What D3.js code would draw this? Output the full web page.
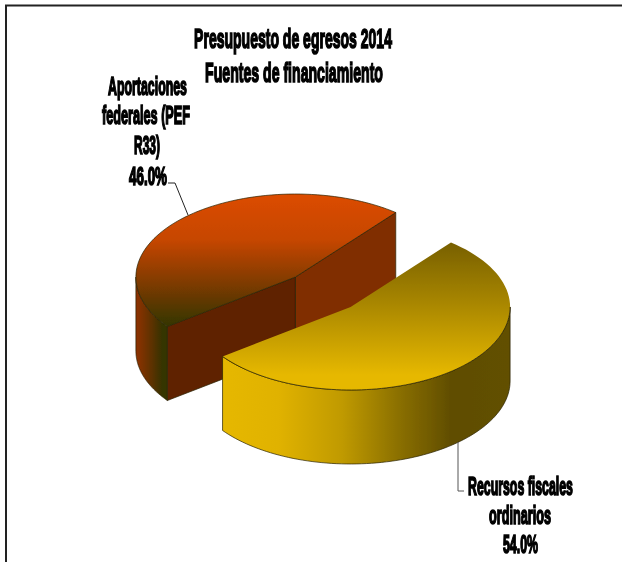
<!DOCTYPE html>
<html><head><meta charset="utf-8">
<script src="https://cdn.jsdelivr.net/npm/d3@7"></script>
<style>html,body{margin:0;padding:0;background:#fff;overflow:hidden}svg{display:block}
text{font-family:"Liberation Sans",Arial,sans-serif;font-weight:700;fill:#000;stroke:#000;text-anchor:middle}</style>
</head><body><svg id="c" width="622" height="562"></svg>
<script>
const categories = ["Recursos fiscales ordinarios", "Aportaciones federales (PEF R33)"];
const values = [54.0, 46.0];
const titleLines = ["Presupuesto de egresos 2014", "Fuentes de financiamiento"];
const labelLines = [["Recursos fiscales", "ordinarios", "54.0%"], ["Aportaciones", "federales (PEF", "R33)", "46.0%"]];

const W = 622, H = 562, cx = 323, cy = 292, rx = 159.5, ry = 83, depth = 74, explode = 0.25;
const svg = d3.select("#c");
const defs = svg.append("defs");
defs.append("filter").attr("id","soft").attr("x","-5%").attr("y","-5%").attr("width","110%").attr("height","110%")
  .append("feGaussianBlur").attr("stdDeviation",0.5);
function grad(id, x1, y1, x2, y2, stops){
  const g = defs.append("linearGradient").attr("id",id).attr("gradientUnits","userSpaceOnUse")
    .attr("x1",x1).attr("y1",y1).attr("x2",x2).attr("y2",y2);
  stops.forEach(s=>g.append("stop").attr("offset",s[0]).attr("stop-color",s[1]));
}
grad("topO",0,194,0,325,[[0,"#dc4c00"],[.35,"#c64600"],[.7,"#7a3a00"],[1,"#363600"]]);
grad("topY",0,243,0,375,[[0,"#786000"],[.45,"#a88600"],[1,"#e6b800"]]);
grad("sideO",137,0,167,0,[[0,"#8c3000"],[.5,"#5c3000"],[.85,"#343400"],[1,"#343400"]]);
grad("sideY",221,0,509,0,[[0,"#e6b800"],[.2,"#e0b200"],[.42,"#c09a00"],[.62,"#8a6f00"],[.8,"#604d00"],[1,"#625000"]]);

const pie = d3.pie().sort(null).startAngle(39*Math.PI/180).endAngle((39+360)*Math.PI/180);
const arcs = pie(values);
const xS = d3.scaleLinear().domain([-1,1]).range([-rx,rx]);
const yS = d3.scaleLinear().domain([-1,1]).range([ry,-ry]);
const line = d3.line();
function center(a){ const m=(a.startAngle+a.endAngle)/2;
  return [cx+xS(Math.sin(m)*explode), cy+yS(Math.cos(m)*explode)]; }
function pt(c,t,dz=0){ return [c[0]+xS(Math.sin(t)), c[1]+yS(Math.cos(t))+dz]; }
function samp(a,b){ const n=80; return d3.range(n+1).map(i=>a+(b-a)*i/n); }

const chart = svg.append("g").attr("filter","url(#soft)");
const EDGE = "#2a2200", EW = 0.7;
function draw(d, fill, sideFill, faces, fullEdge){
  const c = center(d), g = chart.append("g");
  const frontA = Math.max(d.startAngle, Math.PI/2), frontB = Math.min(d.endAngle, 3*Math.PI/2);
  const top = samp(frontA,frontB).map(t=>pt(c,t));
  const bot = samp(frontA,frontB).map(t=>pt(c,t,depth)).reverse();
  faces.forEach(f=>{
    const e = pt(c,f.angle);
    g.append("path").attr("d",line([c,e,[e[0],e[1]+depth],[c[0],c[1]+depth]])+"Z")
     .attr("fill",f.fill).attr("stroke",EDGE).attr("stroke-width",EW);
  });
  g.append("path").attr("d",line(top.concat(bot))+"Z").attr("fill",sideFill)
   .attr("stroke",EDGE).attr("stroke-width",EW);
  const rim = samp(d.startAngle,d.endAngle).map(t=>pt(c,t));
  g.append("path").attr("d",line([c].concat(rim))+"Z").attr("fill",fill)
   .attr("stroke",fullEdge?EDGE:"none").attr("stroke-width",EW);
  if(!fullEdge) g.append("path").attr("d",line(top)).attr("fill","none").attr("stroke",EDGE).attr("stroke-width",EW);
}
draw(arcs[1],"url(#topO)","url(#sideO)",[{angle:arcs[1].endAngle,fill:"#802e00"},{angle:arcs[1].startAngle,fill:"#5e2000"}],true);
draw(arcs[0],"url(#topY)","url(#sideY)",[],false);

// frame
svg.append("path").attr("d","M6,562V5.5H622").attr("fill","none").attr("stroke","#222").attr("stroke-width",2);

// leaders
const lead = svg.append("g").attr("fill","none").attr("stroke","#222").attr("stroke-width",1);
lead.append("path").attr("d","M168,183H175L188,215");
lead.append("path").attr("d","M458,442V491H464").attr("stroke","#555");

// text squeezed horizontally to the stretched look of the source
const txt = svg.append("g").attr("filter","url(#soft)");
function put(s,x0,x1,y,fs,sw){
  const t = txt.append("text").attr("font-size",fs).attr("stroke-width",sw).text(s);
  const k = (x1-x0)/t.node().getComputedTextLength();
  t.attr("transform",`translate(${(x0+x1)/2},${y}) scale(${k},1)`);
}
put(titleLines[0],194,392,48,28,1.7);
put(titleLines[1],205,383,82,28,1.7);
[[108,187,95],[102,190,124],[134,160,154],[129,167,185]].forEach((p,i)=>put(labelLines[1][i],p[0],p[1],p[2],25,1.7));
[[468,573,495],[489,551,524],[503,538,553]].forEach((p,i)=>put(labelLines[0][i],p[0],p[1],p[2],25,1.7));
</script></body></html>
